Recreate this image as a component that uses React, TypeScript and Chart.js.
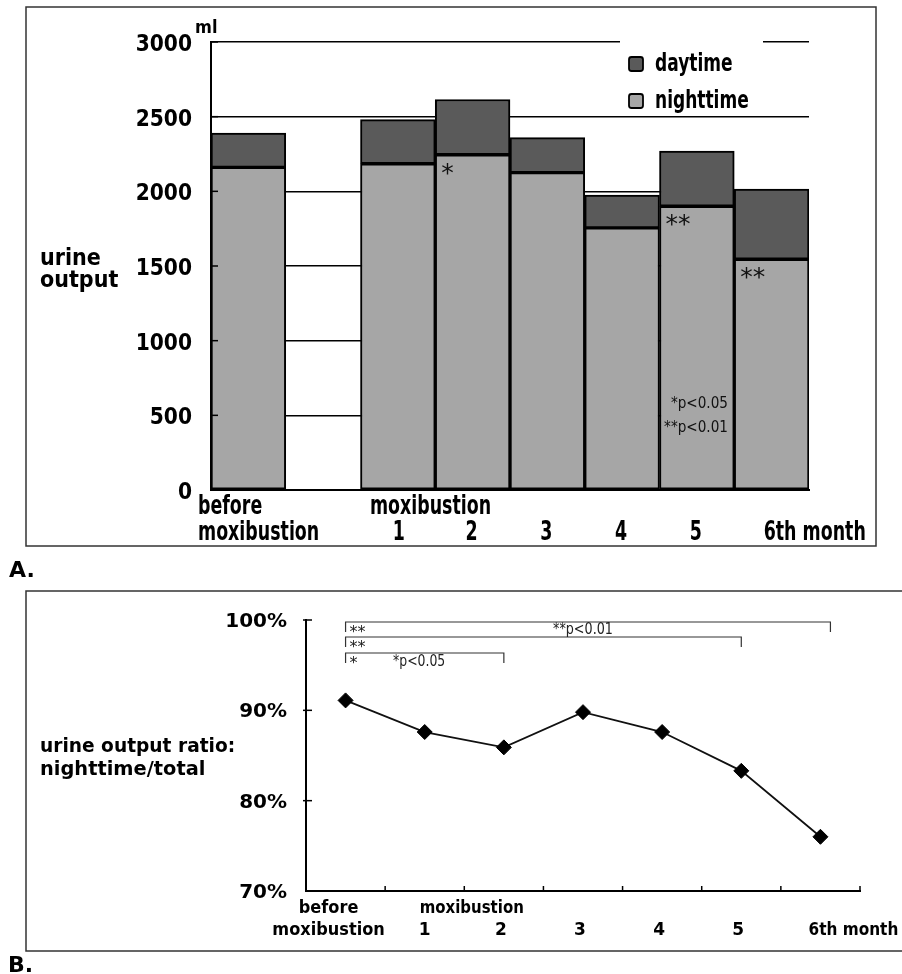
import React, { useEffect, useRef } from 'react';
import { Chart, registerables } from 'chart.js';
Chart.register(...registerables);

const FONT = '"DejaVu Sans", Verdana, sans-serif';

// ---------- Panel A data ----------
const categoriesA = ['before moxibustion', '', '1', '2', '3', '4', '5', '6th month'];
const xLinesA = [['before', 'moxibustion'], ['', ''], ['moxibustion', '1'], ['', '2'], ['', '3'], ['', '4'], ['', '5'], ['', '6th month']];
const nighttimeA = [2160, null, 2185, 2245, 2125, 1755, 1900, 1545];
const daytimeA = [230, null, 295, 370, 235, 220, 370, 470];
const starsA = ['', '', '', '*', '', '', '**', '**'];
const yTicksA = [0, 500, 1000, 1500, 2000, 2500, 3000];
const legendA = ['daytime', 'nighttime'];
const pNotesA = ['*p<0.05', '**p<0.01'];
const unitA = 'ml';
const yTitleA = ['urine', 'output'];

// ---------- Panel B data ----------
const categoriesB = ['before moxibustion', '1', '2', '3', '4', '5', '6th month'];
const xLinesB = [['before', 'moxibustion'], ['moxibustion', '1'], ['', '2'], ['', '3'], ['', '4'], ['', '5'], ['', '6th month']];
const ratioB = [91.1, 87.6, 85.9, 89.8, 87.6, 83.3, 76.0];
const yTicksB = [70, 80, 90, 100];
const bracketToB = [6, 5, 2];
const bracketMarkB = ['**', '**', '*'];
const yTitleB = ['urine output ratio:', 'nighttime/total'];

const DAY = '#5a5a5a';
const NIGHT = '#a6a6a6';

function txt(ctx: CanvasRenderingContext2D, s: string, x: number, y: number, size: number, bold: boolean, align: CanvasTextAlign = 'left', sx = 1, color = '#000') {
  ctx.save();
  ctx.font = `${bold ? 'bold ' : ''}${size}px ${FONT}`;
  ctx.fillStyle = color;
  ctx.textAlign = align;
  ctx.textBaseline = 'alphabetic';
  ctx.translate(x, y);
  ctx.scale(sx, 1);
  ctx.fillText(s, 0, 0);
  ctx.restore();
}

function line(ctx: CanvasRenderingContext2D, pts: number[][], w: number, color = '#000') {
  ctx.save();
  ctx.strokeStyle = color;
  ctx.lineWidth = w;
  ctx.beginPath();
  pts.forEach((p, i) => (i ? ctx.lineTo(p[0], p[1]) : ctx.moveTo(p[0], p[1])));
  ctx.stroke();
  ctx.restore();
}

const pluginA = {
  id: 'panelA',
  afterDraw(chart: any) {
    const ctx = chart.ctx as CanvasRenderingContext2D;
    const { left, right, top, bottom } = chart.chartArea;
    const xs = chart.scales.x;
    const ys = chart.scales.y;
    // frame
    ctx.save();
    ctx.strokeStyle = '#333';
    ctx.lineWidth = 1.5;
    ctx.strokeRect(26, 7, 850, 539);
    ctx.restore();
    // inward tick marks + labels
    yTicksA.forEach((v) => {
      const y = ys.getPixelForValue(v);
      line(ctx, [[left, y], [left + 7, y]], 1.5);
      txt(ctx, String(v), left - 19, y + 9, 23, true, 'right', 0.88);
    });
    txt(ctx, unitA, left - 16, top - 9, 18, true, 'left', 0.9);
    // y title
    txt(ctx, yTitleA[0], 40, 265, 23, true, 'left', 0.9);
    txt(ctx, yTitleA[1], 40, 287, 23, true, 'left', 0.9);
    // x labels
    const half = (xs.getPixelForValue(1) - xs.getPixelForValue(0)) / 2;
    xLinesA.forEach((lines, i) => {
      const cx = xs.getPixelForValue(i);
      if (i === 0) {
        txt(ctx, lines[0], cx - half - 13, bottom + 24, 26, true, 'left', 0.67);
        txt(ctx, lines[1], cx - half - 13, bottom + 50, 26, true, 'left', 0.67);
      } else if (i === 2) {
        txt(ctx, lines[0], cx - 28, bottom + 24, 26, true, 'left', 0.67);
        txt(ctx, lines[1], cx + 1, bottom + 50, 26, true, 'center', 0.67);
      } else if (i === categoriesA.length - 1) {
        txt(ctx, lines[1], cx - 8, bottom + 50, 26, true, 'left', 0.67);
      } else if (lines[1]) {
        txt(ctx, lines[1], cx - 1, bottom + 50, 26, true, 'center', 0.67);
      }
    });
    // significance stars
    starsA.forEach((s, i) => {
      if (!s) return;
      const v = nighttimeA[i] as number;
      const x = xs.getPixelForValue(i) - half + 6;
      txt(ctx, s, x, ys.getPixelForValue(v) + 26, 25, false, 'left', 1, '#111');
    });
    // p notes
    txt(ctx, pNotesA[0], right - 81, bottom - 82, 16, false, 'right', 0.85, '#111');
    txt(ctx, pNotesA[1], right - 81, bottom - 58, 16, false, 'right', 0.85, '#111');
    // legend
    ctx.save();
    ctx.fillStyle = '#fff';
    ctx.fillRect(620, top - 6, 143, 70);
    const items = [DAY, NIGHT];
    const bases = [71, 108];
    items.forEach((c, i) => {
      const y = bases[i] - 14;
      ctx.beginPath();
      ctx.fillStyle = c;
      ctx.strokeStyle = '#000';
      ctx.lineWidth = 1.8;
      (ctx as any).roundRect(629, y, 14, 14, 2.5);
      ctx.fill();
      ctx.stroke();
      txt(ctx, legendA[i], 655, bases[i], 24, true, 'left', 0.71);
    });
    ctx.restore();
    // panel letter
    txt(ctx, 'A.', 9, 577, 22, true, 'left', 1);
  },
};

const pluginB = {
  id: 'panelB',
  afterDraw(chart: any) {
    const ctx = chart.ctx as CanvasRenderingContext2D;
    const { left, right, top, bottom } = chart.chartArea;
    const xs = chart.scales.x;
    const ys = chart.scales.y;
    // frame (top, left, bottom; open to the right)
    line(ctx, [[902, 6], [26, 6], [26, 366], [902, 366]], 1.5, '#333');
    // y ticks
    yTicksB.forEach((v) => {
      const y = ys.getPixelForValue(v);
      if (v !== yTicksB[0]) line(ctx, [[left - 3, y], [left + 6, y]], 1.5);
      txt(ctx, `${v}%`, left - 19, y + 7, 20, true, 'right', 1);
    });
    // x boundary ticks
    const n = categoriesB.length;
    const w = (right - left) / n;
    for (let i = 1; i <= n; i++) {
      const x = left + i * w;
      line(ctx, [[x, bottom], [x, bottom - 5]], 1.5);
    }
    // x labels
    xLinesB.forEach((lines, i) => {
      const cx = xs.getPixelForValue(i);
      if (i === 0) {
        txt(ctx, lines[0], cx - 17, bottom + 22, 17, true, 'center', 0.95);
        txt(ctx, lines[1], cx - 17, bottom + 44, 17, true, 'center', 0.95);
      } else if (i === 1) {
        txt(ctx, lines[0], cx - 5, bottom + 22, 17, true, 'left', 0.88);
        txt(ctx, lines[1], cx, bottom + 44, 17, true, 'center', 1);
      } else if (i === n - 1) {
        txt(ctx, lines[1], cx + 33, bottom + 44, 17, true, 'center', 0.9);
      } else {
        txt(ctx, lines[1], cx - 3, bottom + 44, 17, true, 'center', 1);
      }
    });
    // y title
    txt(ctx, yTitleB[0], 40, 752 - 585, 20, true, 'left', 0.93);
    txt(ctx, yTitleB[1], 40, 775 - 585, 20, true, 'left', 0.97);
    // brackets
    const x0 = xs.getPixelForValue(0);
    const offs = [2, 17, 33];
    bracketToB.forEach((to, k) => {
      const y = top + offs[k];
      let x1 = xs.getPixelForValue(to);
      if (to === n - 1) x1 += 10;
      line(ctx, [[x0, y + 10], [x0, y], [x1, y], [x1, y + 10]], 1.2, '#333');
      txt(ctx, bracketMarkB[k], x0 + 4, y + 15, 16, false, 'left', 1, '#222');
    });
    txt(ctx, '**p<0.01', left + 247, top + 2 + 12, 15, false, 'left', 0.85, '#222');
    txt(ctx, '*p<0.05', left + 87, top + 33 + 13, 15, false, 'left', 0.83, '#222');
    // panel letter
    txt(ctx, 'B.', 8, 387, 22, true, 'left', 1);
  },
};

export default function App() {
  const refA = useRef<HTMLCanvasElement>(null);
  const refB = useRef<HTMLCanvasElement>(null);

  useEffect(() => {
    const barCommon = {
      borderColor: '#000',
      borderWidth: 2,
      borderSkipped: false,
      barPercentage: 1,
      categoryPercentage: 1,
      stack: 's',
    };
    const chartA = new Chart(refA.current!, {
      type: 'bar',
      data: {
        labels: categoriesA,
        datasets: [
          { label: legendA[1], data: nighttimeA, backgroundColor: NIGHT, ...barCommon } as any,
          { label: legendA[0], data: daytimeA, backgroundColor: DAY, ...barCommon } as any,
        ],
      },
      options: {
        responsive: false,
        animation: false,
        devicePixelRatio: 1,
        layout: { padding: { left: 211, top: 42, right: 93, bottom: 95 } },
        plugins: { legend: { display: false }, tooltip: { enabled: false } },
        scales: {
          x: {
            stacked: true,
            ticks: { display: false },
            grid: { display: false },
            border: { display: true, color: '#000', width: 2 },
            afterFit: (s: any) => { s.height = 0; },
          },
          y: {
            stacked: true,
            min: 0,
            max: 3000,
            ticks: { display: false, stepSize: 500 },
            grid: { display: true, color: '#000', lineWidth: 1.5, drawTicks: false },
            border: { display: true, color: '#000', width: 2 },
            afterFit: (s: any) => { s.width = 0; },
          },
        },
      } as any,
      plugins: [pluginA],
    });

    const chartB = new Chart(refB.current!, {
      type: 'line',
      data: {
        labels: categoriesB,
        datasets: [
          {
            data: ratioB,
            borderColor: '#111',
            borderWidth: 1.8,
            pointStyle: 'rectRot',
            pointRadius: 7.5,
            pointBackgroundColor: '#000',
            pointBorderColor: '#000',
            pointBorderWidth: 1,
            tension: 0,
          } as any,
        ],
      },
      options: {
        responsive: false,
        animation: false,
        devicePixelRatio: 1,
        layout: { padding: { left: 306, top: 35, right: 42, bottom: 83 } },
        plugins: { legend: { display: false }, tooltip: { enabled: false } },
        scales: {
          x: {
            offset: true,
            ticks: { display: false },
            grid: { display: false },
            border: { display: true, color: '#000', width: 2 },
            afterFit: (s: any) => { s.height = 0; },
          },
          y: {
            min: 70,
            max: 100,
            ticks: { display: false, stepSize: 10 },
            grid: { display: false },
            border: { display: true, color: '#000', width: 2 },
            afterFit: (s: any) => { s.width = 0; },
          },
        },
      } as any,
      plugins: [pluginB],
    });

    return () => {
      chartA.destroy();
      chartB.destroy();
    };
  }, []);

  return (
    <div style={{ position: 'absolute', left: 0, top: 0, width: 902, height: 974, background: '#fff' }}>
      <canvas ref={refA} width={902} height={585} style={{ position: 'absolute', left: 0, top: 0, width: 902, height: 585 }} />
      <canvas ref={refB} width={902} height={389} style={{ position: 'absolute', left: 0, top: 585, width: 902, height: 389 }} />
    </div>
  );
}
